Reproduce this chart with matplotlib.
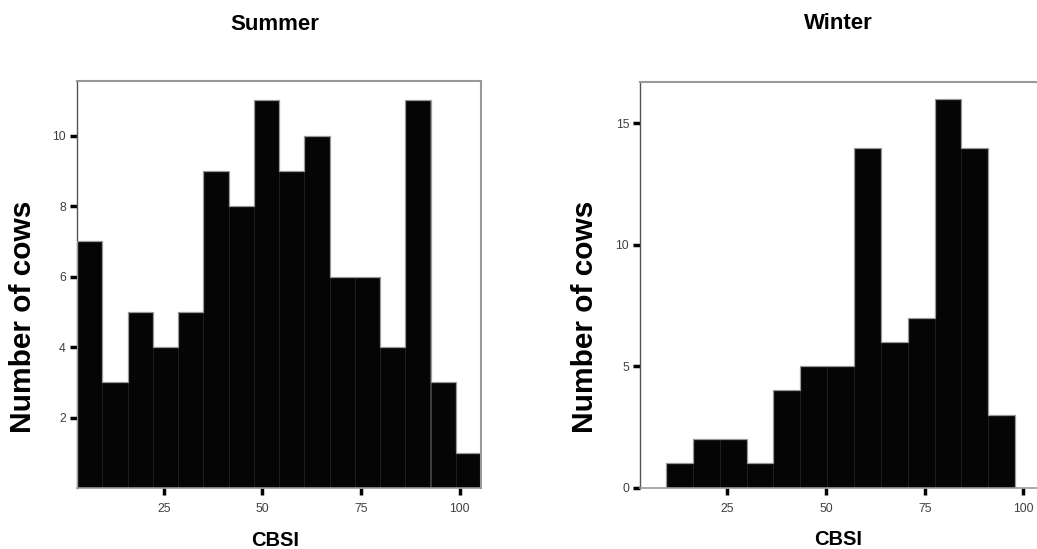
import matplotlib
matplotlib.use("Agg")
import matplotlib.pyplot as plt
import numpy as np

plt.rcParams['font.family'] = ['Liberation Sans', 'DejaVu Sans']

# ---- data ----
summer_edges = [3.0, 9.4, 15.8, 22.2, 28.6, 35.0, 41.4, 47.8, 54.2, 60.6,
                67.0, 73.4, 79.8, 86.2, 92.6, 99.0, 105.4]
summer_counts = [7, 3, 5, 4, 5, 9, 8, 11, 9, 10, 6, 6, 4, 11, 3, 1]

winter_edges = [9.5, 16.3, 23.1, 29.9, 36.7, 43.5, 50.3, 57.1, 63.9, 70.7,
                77.5, 84.3, 91.1, 97.9]
winter_counts = [1, 2, 2, 1, 4, 5, 5, 14, 6, 7, 16, 14, 3]

x_ticks = [25, 50, 75, 100]
summer_yticks = [2, 4, 6, 8, 10]
winter_yticks = [0, 5, 10, 15]

titles = ["Summer", "Winter"]
x_label = "CBSI"
y_label = "Number of cows"

W, H = 1037, 549
fig = plt.figure(figsize=(W / 100, H / 100), dpi=100)

ax1 = fig.add_axes([77 / W, (H - 488) / H, 404 / W, 407 / H])
ax2 = fig.add_axes([640.3 / W, (H - 487.5) / H, 404.5 / W, 405.5 / H])


def draw(ax, edges, counts, yticks, ylim, title, title_y, ylab_x):
    edges = np.asarray(edges)
    ax.bar(edges[:-1], counts, width=np.diff(edges), align='edge',
           color='#050505', edgecolor='#1e1e1e', linewidth=0.5, zorder=2)
    ax.stairs(counts, edges, color='#9a9a9a', linewidth=0.9, zorder=3)
    ax.set_xlim(3, 105.4)
    ax.set_ylim(*ylim)
    ax.set_xticks(x_ticks)
    ax.set_yticks(yticks)
    ax.tick_params(axis='both', direction='out', length=5, width=2.5,
                   color='black', labelsize=8.8, labelcolor='#404040')
    ax.tick_params(axis='y', pad=3)
    ax.tick_params(axis='x', pad=6)
    ax.spines['left'].set_color('#555555')
    ax.spines['left'].set_linewidth(1.0)
    for s in ('top', 'right'):
        ax.spines[s].set_color('#999999')
        ax.spines[s].set_linewidth(1.5)
    ax.spines['bottom'].set_color('#999999')
    ax.spines['bottom'].set_linewidth(1.2)
    ax.set_xlabel(x_label, fontsize=14.5, fontweight='bold', va='center')
    ax.xaxis.set_label_coords(0.49, -0.128)
    ax.set_ylabel(y_label, fontsize=21.5, fontweight='bold', va='center')
    ax.yaxis.set_label_coords(ylab_x, 0.42)
    ax.text(0.49, title_y, title, transform=ax.transAxes, ha='center',
            va='center', fontsize=16, fontweight='bold')


draw(ax1, summer_edges, summer_counts, summer_yticks, (0, 11.55), titles[0], 1.14, -0.133)
draw(ax2, winter_edges, winter_counts, winter_yticks, (0, 16.7), titles[1], 1.145, -0.136)

fig.savefig("out.png", dpi=100, facecolor='white')
